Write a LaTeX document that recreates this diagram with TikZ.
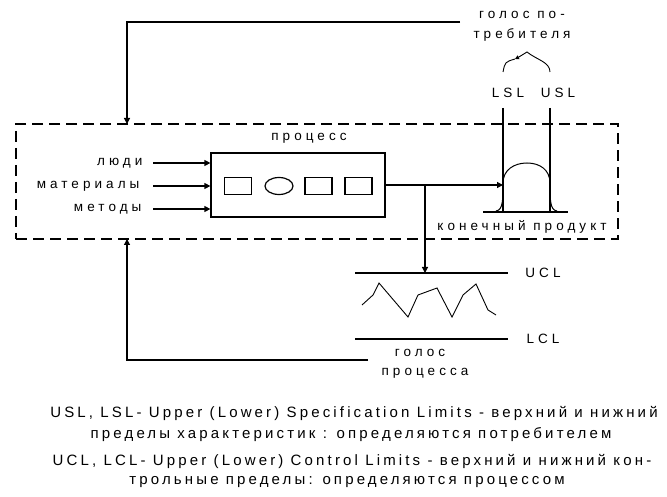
\documentclass[tikz,border=0pt]{standalone}
\usepackage{fontspec}
\setmainfont{Liberation Sans}
\newfontfamily\spaced[LetterSpace=30]{Liberation Sans}
\newfontfamily\fnspaced[LetterSpace=21]{Liberation Sans}
\usetikzlibrary{arrows.meta,shapes.geometric}

\begin{document}
\begin{tikzpicture}[x=1pt,y=-1pt,line width=1.2pt,
    lbl/.style={inner sep=0pt,font=\spaced\fontsize{13.5}{15}\selectfont},
    fn/.style={inner sep=0pt,font=\fnspaced\fontsize{15}{17}\selectfont},
    tip/.style={-{Triangle[length=6pt,width=6pt]}},
    cell/.style={draw,minimum width=27pt,minimum height=17pt,inner sep=0pt}]
    \useasboundingbox (0,0) rectangle (667,497);
    % system frame
    \node[draw,dash pattern=on 11pt off 6pt,minimum width=602pt,minimum height=115pt,inner sep=0pt] (frame) at (317,181.5) {};
    % process
    \node[draw,minimum width=174pt,minimum height=64pt,inner sep=0pt] (proc) at (298,185) {};
    \node[lbl] (proclbl) at (309,138) {процесс};
    \node[cell] (c1) at (238,186) {};
    \node[draw,ellipse,minimum width=28pt,minimum height=17pt,inner sep=0pt] (c2) at (279,186) {};
    \node[cell] (c3) at (318.5,186) {};
    \node[cell] (c4) at (358.5,186) {};
    % inputs
    \node[lbl,anchor=east] (people) at (143,163) {люди};
    \node[lbl,anchor=east] (mater) at (140,186) {материалы};
    \node[lbl,anchor=east] (meth) at (142,209) {методы};
    \draw[tip] (153,163) -- (people -| proc.west);
    \draw[tip] (153,186) -- (mater -| proc.west);
    \draw[tip] (153,209) -- (meth -| proc.west);
    % specification limits
    \node[lbl] (lsl) at (508,93) {LSL};
    \node[lbl] (usl) at (558,93) {USL};
    \coordinate (lsltop) at (503,108);
    \coordinate (lslbot) at (503,212);
    \coordinate (usltop) at (550,108);
    \coordinate (uslbot) at (550,212);
    \draw (lsltop) -- (lslbot);
    \draw (usltop) -- (uslbot);
    \draw (483,212) -- (568,212);
    \draw[line width=1pt] (496,211) .. controls (503,210) and (503,200) .. (503,183)
        .. controls (503,170) and (514,163) .. (527,163)
        .. controls (540,163) and (550,170) .. (550,183)
        .. controls (550,200) and (550,210) .. (557,211);
    \node[lbl] (product) at (522,227) {конечный продукт};
    % output
    \draw[tip] (proc.east) -- (proc.east -| lsltop);
    \coordinate (split) at (425,186);
    % control limits
    \coordinate (uclL) at (355,273);
    \coordinate (uclR) at (508,273);
    \coordinate (lclL) at (355,339);
    \coordinate (lclR) at (508,339);
    \draw (uclL) -- (uclR);
    \draw (lclL) -- (lclR);
    \node[lbl] (ucl) at (543,273) {UCL};
    \node[lbl] (lcl) at (543,339) {LCL};
    \draw[tip] (split) -- (split |- uclL);
    \draw[line width=0.9pt] plot coordinates {(362,305) (373,295) (379,283) (408,317) (418,295)
        (437,288) (452,317) (463,295) (476,284) (488,310) (496,315)};
    % voice of the customer
    \node[lbl] (cust1) at (522,15) {голос по-};
    \node[lbl] (cust2) at (522,35) {требителя};
    \coordinate (fbtop) at (460,22);
    \coordinate (fbin) at (127,124);
    \draw[tip] (fbtop) -| (fbin);
    \draw[line width=0.9pt,-{Triangle[length=4pt,width=4pt]}] (550,72) .. controls (550,62) and (537,60) .. (527,52)
        .. controls (523,55) .. (515,59);
    \draw[line width=0.9pt] (515,59) .. controls (505,62) .. (503,72);
    % voice of the process
    \node[lbl] (proc1) at (420,353) {голос};
    \node[lbl] (proc2) at (425,373) {процесса};
    \coordinate (pbend) at (368,360);
    \coordinate (pbin) at (127,239);
    \draw[tip] (pbend) -| (pbin);
    % notes
    \node[fn] (note1) at (354,413) {USL, LSL- Upper (Lower) Specification Limits - верхний и нижний};
    \node[fn] (note2) at (351,435) {пределы характеристик : определяются потребителем};
    \node[fn] (note3) at (352,461) {UCL, LCL- Upper (Lower) Control Limits - верхний и нижний кон-};
    \node[fn] (note4) at (347,482) {трольные пределы: определяются процессом};
\end{tikzpicture}
\end{document}
